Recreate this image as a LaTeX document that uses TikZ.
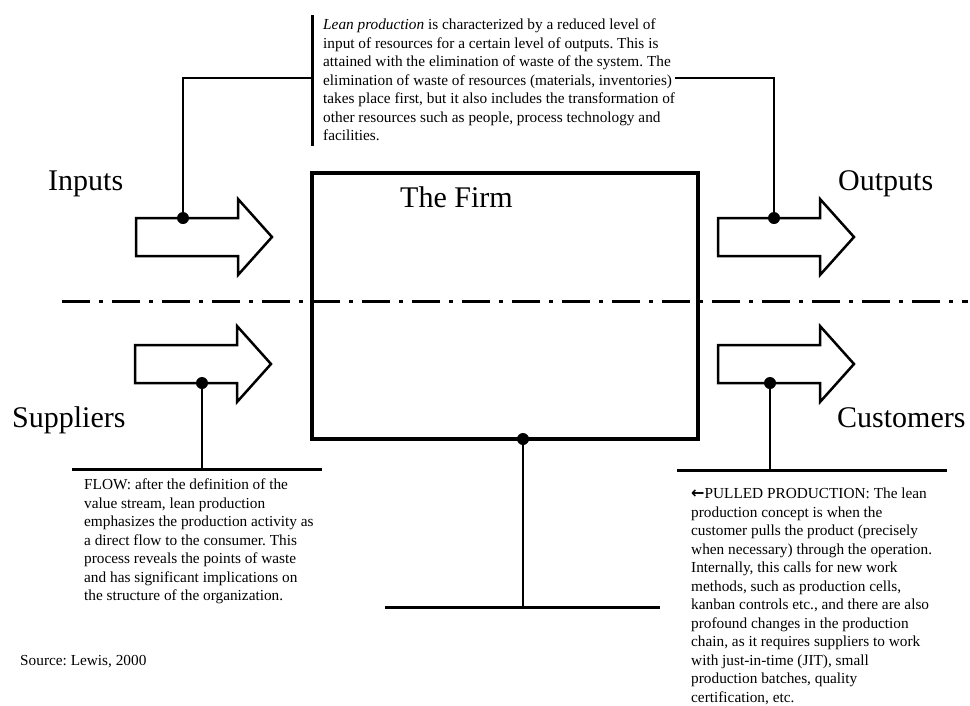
\documentclass[tikz,border=0pt]{standalone}
\usepackage{fontspec}
\setmainfont{Liberation Serif}
\newfontfamily\symfont{DejaVu Sans}
\frenchspacing
\tikzstyle{firmbox} = [draw=black, line width=3.5pt, minimum width=386pt, minimum height=266pt, inner sep=0pt]
\tikzstyle{dot} = [circle, fill=black, inner sep=0pt, minimum size=12pt]
\tikzstyle{lead} = [line width=2pt]
\tikzstyle{rule} = [line width=3pt]
\tikzstyle{bigword} = [font=\fontsize{30}{36}\selectfont, inner sep=0pt, anchor=base west]
\tikzstyle{note} = [font=\fontsize{15.3}{18.5}\selectfont, inner sep=0pt, anchor=north west, align=left]
\tikzstyle{blockarrow} = [line width=2.5pt, line join=miter]
\newcommand{\flowarrow}[2]{\draw[blockarrow] (#1,#2) ++(0,-19) -- ++(102,0) -- ++(0,-19) -- ++(34,38) -- ++(-34,38) -- ++(0,-19) -- ++(-102,0) -- cycle;}

\begin{document}
\begin{tikzpicture}[x=1pt, y=-1pt]
	\useasboundingbox (0,0) rectangle (970,705);
	% the firm
	\node[firmbox] (firm) at (505,306) {};
	\node[bigword] (firmName) at (400,207) {The Firm};
	\draw[line width=3pt, dash pattern=on 28pt off 9pt on 4pt off 9pt] (62,301) -- (968,301);
	% block arrows
	\flowarrow{136}{237}
	\flowarrow{718}{237}
	\flowarrow{135}{364}
	\flowarrow{718}{364}
	% labels
	\node[bigword] (inputs) at (48,190) {Inputs};
	\node[bigword] (outputs) at (838,190) {Outputs};
	\node[bigword] (suppliers) at (12,427) {Suppliers};
	\node[bigword] (customers) at (837,427) {Customers};
	% notes
	\node[note] (leanNote) at (323,19) {\textit{Lean production} is characterized by a reduced level of\\
		input of resources for a certain level of outputs. This is\\
		attained with the elimination of waste of the system. The\\
		elimination of waste of resources (materials, inventories)\\
		takes place first, but it also includes the transformation of\\
		other resources such as people, process technology and\\
		facilities.};
	\node[note] (flowNote) at (84,479) {FLOW: after the definition of the\\
		value stream, lean production\\
		emphasizes the production activity as\\
		a direct flow to the consumer. This\\
		process reveals the points of waste\\
		and has significant implications on\\
		the structure of the organization.};
	\node[note] (pullNote) at (691,488) {{\symfont\bfseries\fontsize{16}{18}\selectfont ←}PULLED PRODUCTION: The lean\\
		production concept is when the\\
		customer pulls the product (precisely\\
		when necessary) through the operation.\\
		Internally, this calls for new work\\
		methods, such as production cells,\\
		kanban controls etc., and there are also\\
		profound changes in the production\\
		chain, as it requires suppliers to work\\
		with just-in-time (JIT), small\\
		production batches, quality\\
		certification, etc.};
	\node[note, anchor=base west] (source) at (20,665) {Source: Lewis, 2000};
	% dots
	\node[dot] (inDot) at (183,218) {};
	\node[dot] (outDot) at (774,218) {};
	\node[dot] (supDot) at (202,383) {};
	\node[dot] (custDot) at (770,383) {};
	\node[dot] (firmDot) at (523,439) {};
	% rules and connectors
	\coordinate (barTop) at (312,15);
	\coordinate (barBot) at (312,146);
	\coordinate (barMid) at (312,78);
	\draw[rule] (barTop) -- (barBot);
	\draw[lead] (inDot.center) |- (barMid);
	\draw[lead] (outDot.center) |- (leanNote.east |- barMid);
	\coordinate (flowL) at (72,469);
	\coordinate (flowR) at (322,469);
	\draw[rule] (flowL) -- (flowR);
	\draw[lead] (supDot.center) -- (supDot |- flowL);
	\coordinate (pullL) at (677,470);
	\coordinate (pullR) at (947,470);
	\draw[rule] (pullL) -- (pullR);
	\draw[lead] (custDot.center) -- (custDot |- pullL);
	\coordinate (baseL) at (385,607);
	\coordinate (baseR) at (660,607);
	\draw[rule] (baseL) -- (baseR);
	\draw[lead] (firmDot.center) -- (firmDot |- baseL);
\end{tikzpicture}
\end{document}
